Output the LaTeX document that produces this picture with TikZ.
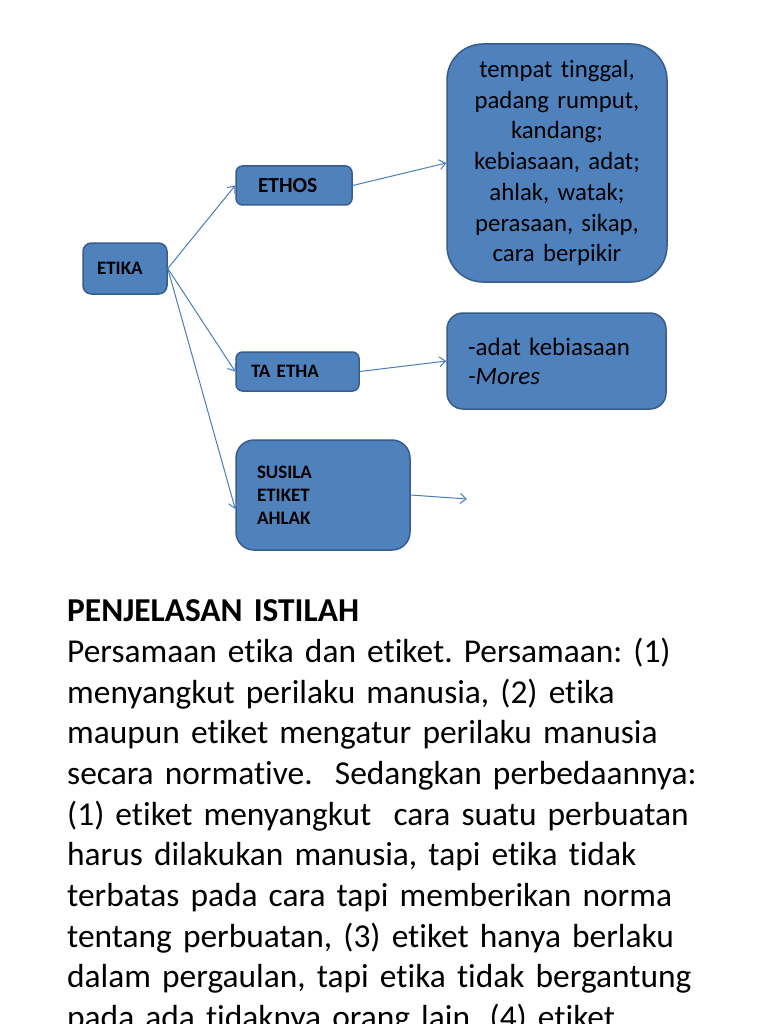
\documentclass[tikz,border=0pt]{standalone}
\usepackage{fontspec}
\setmainfont{Carlito}[Ligatures=NoCommon]
\frenchspacing
\usepackage{tikz}
\usetikzlibrary{arrows.meta}
\definecolor{boxblue}{RGB}{79,129,189}
\definecolor{boxline}{RGB}{56,93,138}
\definecolor{linkblue}{RGB}{74,126,187}

\begin{document}
\begin{tikzpicture}[x=1pt, y=-1pt,
  box/.style={rectangle, draw=boxline, fill=boxblue, line width=1.5pt,
    text=black, align=left},
  tag/.style={box, font=\fontsize{19}{23}\selectfont\bfseries},
  note/.style={box, font=\fontsize{24.8}{30.7}\selectfont},
  link/.style={-{Straight Barb[length=6pt,width=10pt]}, draw=linkblue, line width=1pt}
]
  \path[use as bounding box, fill=white] (0,0) rectangle (768,1024);

  \node[tag, rounded corners=8.5pt, minimum width=84pt, minimum height=51pt,
    inner xsep=14pt, text width=56pt] (etika) at (125,268.5) {ETIKA};
  \node[tag, font=\fontsize{21.5}{25}\selectfont\bfseries, rounded corners=6.5pt,
    minimum width=116pt, minimum height=39pt,
    inner xsep=22pt, text width=72pt] (ethos) at (294,185.5) {ETHOS};
  \node[tag, rounded corners=6.5pt, minimum width=123pt, minimum height=39pt,
    inner xsep=15pt, text width=93pt] (taetha) at (297.5,371.5) {TA ETHA};
  \node[tag, rounded corners=18pt, minimum width=174pt, minimum height=110pt,
    inner xsep=21pt, text width=132pt] (susila) at (323,495) {SUSILA\\ETIKET\\AHLAK};
  \node[note, align=center, rounded corners=36pt, minimum width=220pt, minimum height=238pt,
    text width=200pt] (makna) at (557,163)
    {tempat tinggal,\\padang rumput,\\kandang;\\kebiasaan, adat;\\ahlak, watak;\\perasaan, sikap,\\cara berpikir};
  \node[note, font=\fontsize{25}{29}\selectfont, rounded corners=16pt,
    minimum width=219pt, minimum height=96pt,
    inner xsep=21pt, text width=177pt] (mores) at (556.5,361) {-adat kebiasaan\\\textit{-Mores}};
  \coordinate (lepas) at (467,499);

  \draw[link] (etika.east) -- (ethos.west);
  \draw[link] (etika.east) -- (taetha.west);
  \draw[link] (etika.east) -- ([yshift=-14pt]susila.west);
  \draw[link] (ethos.east) -- (makna.west);
  \draw[link] (taetha.east) -- (mores.west);
  \draw[link] (susila.east) -- (lepas);

  \node[anchor=north west, inner sep=0pt, align=left, text width=700pt,
    font=\fontsize{33.4}{40.7}\selectfont] (penjelasan) at (67,599.5)
    {\textbf{PENJELASAN ISTILAH}\\
     Persamaan etika dan etiket. Persamaan: (1)\\
     menyangkut perilaku manusia, (2) etika\\
     maupun etiket mengatur perilaku manusia\\
     secara normative.~ Sedangkan perbedaannya:\\
     (1) etiket menyangkut~ cara suatu perbuatan\\
     harus dilakukan manusia, tapi etika tidak\\
     terbatas pada cara tapi memberikan norma\\
     tentang perbuatan, (3) etiket hanya berlaku\\
     dalam pergaulan, tapi etika tidak bergantung\\
     pada ada tidaknya orang lain. (4) etiket};
\end{tikzpicture}
\end{document}
